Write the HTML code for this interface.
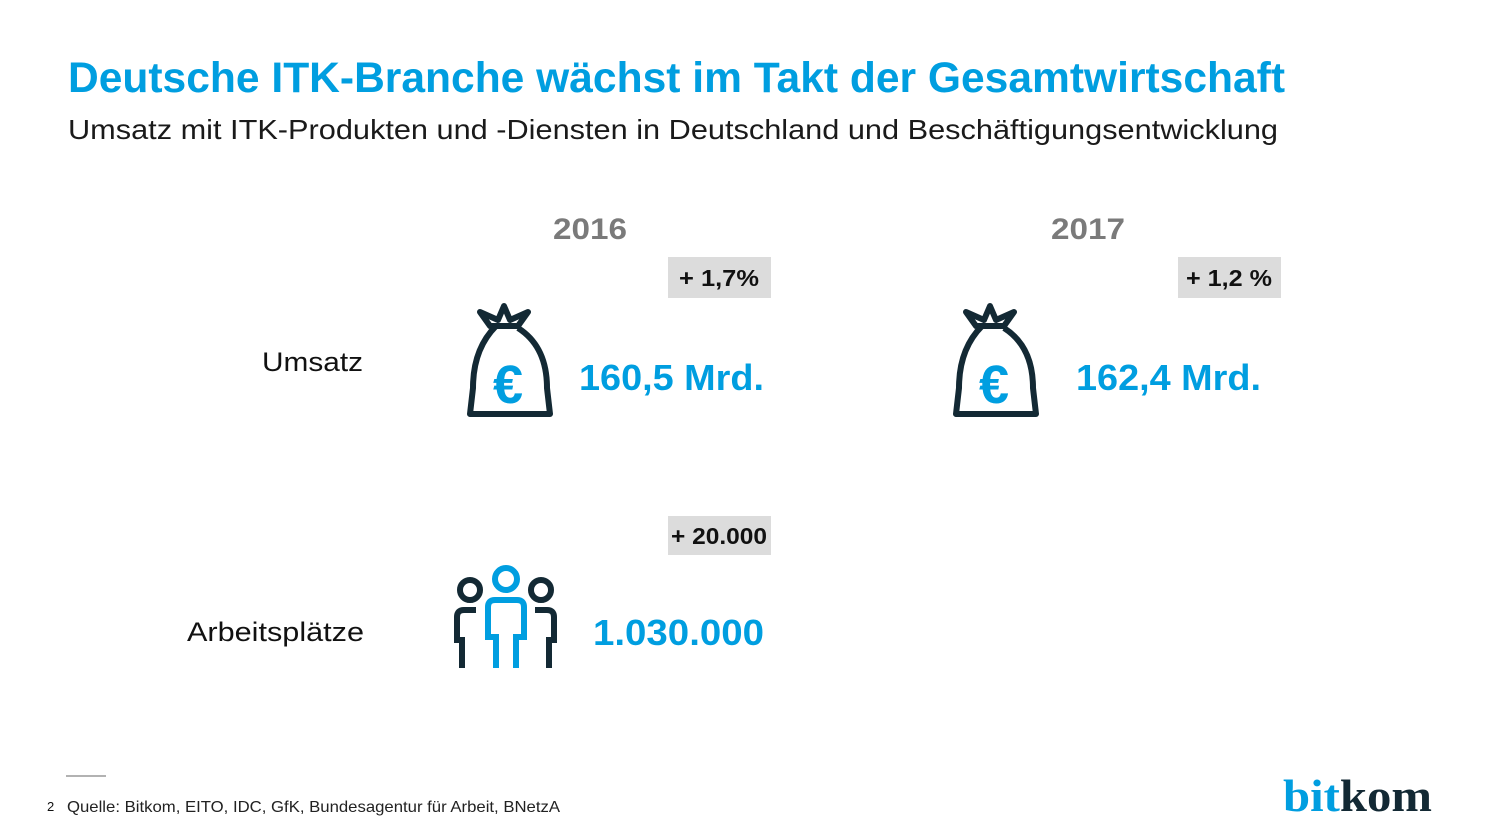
<!DOCTYPE html>
<html><head><meta charset="utf-8"><style>
html,body{margin:0;padding:0;background:#fff;width:1500px;height:839px;overflow:hidden}
svg{display:block;font-family:"Liberation Sans",sans-serif}
</style></head><body>
<svg width="1500" height="839" viewBox="0 0 1500 839">
<text x="68" y="92" font-size="43" font-weight="bold" fill="#009ee0" textLength="1217" lengthAdjust="spacingAndGlyphs">Deutsche ITK-Branche wächst im Takt der Gesamtwirtschaft</text>
<text x="68" y="139" font-size="28" fill="#1a1a1a" textLength="1210" lengthAdjust="spacingAndGlyphs">Umsatz mit ITK-Produkten und -Diensten in Deutschland und Beschäftigungsentwicklung</text>

<text x="590" y="239" font-size="30" font-weight="bold" fill="#7a7a7a" text-anchor="middle" textLength="74" lengthAdjust="spacingAndGlyphs">2016</text>
<text x="1088" y="239" font-size="30" font-weight="bold" fill="#7a7a7a" text-anchor="middle" textLength="74" lengthAdjust="spacingAndGlyphs">2017</text>

<text x="262" y="371" font-size="27" fill="#111" textLength="101" lengthAdjust="spacingAndGlyphs">Umsatz</text>
<text x="187" y="641" font-size="27" fill="#111" textLength="177" lengthAdjust="spacingAndGlyphs">Arbeitsplätze</text>

<g>
<rect x="668" y="257" width="103" height="41" fill="#dcdcdc"/>
<text x="719" y="286" font-size="23" font-weight="bold" fill="#111" text-anchor="middle" textLength="80" lengthAdjust="spacingAndGlyphs">+ 1,7%</text></g>
<g>
<rect x="1178" y="257" width="103" height="41" fill="#dcdcdc"/>
<text x="1229" y="286" font-size="23" font-weight="bold" fill="#111" text-anchor="middle" textLength="86" lengthAdjust="spacingAndGlyphs">+ 1,2 %</text></g>
<g>
<rect x="668" y="516" width="103" height="39" fill="#dcdcdc"/>
<text x="719" y="544" font-size="23" font-weight="bold" fill="#111" text-anchor="middle" textLength="96" lengthAdjust="spacingAndGlyphs">+ 20.000</text></g>

<defs>
<g id="bag">
<path d="M12 6 L30 14 L36 0 L42 14 L60 6 L50 20 L22 20 Z" fill="none" stroke="#132934" stroke-width="6" stroke-linejoin="round"/>
<path d="M28 20 C12 36 5 58 5 82 L2 108 L82 108 L79 82 C79 58 72 36 50 22" fill="none" stroke="#132934" stroke-width="6" stroke-linejoin="round"/>
<text x="40" y="97" font-size="54" font-weight="bold" fill="#009ee0" text-anchor="middle">€</text>
</g>
</defs>
<use href="#bag" x="468" y="306"/>
<use href="#bag" x="954" y="306"/>

<text x="579" y="390" font-size="36" font-weight="bold" fill="#009ee0" textLength="185" lengthAdjust="spacingAndGlyphs">160,5 Mrd.</text>
<text x="1076" y="390" font-size="36" font-weight="bold" fill="#009ee0" textLength="185" lengthAdjust="spacingAndGlyphs">162,4 Mrd.</text>

<g fill="none" stroke-width="6" stroke-linecap="butt">
<circle cx="470" cy="590" r="10" stroke="#132934"/>
<circle cx="541" cy="590" r="10" stroke="#132934"/>
<path d="M476 610 L464 610 Q457 610 457 617 L457 640 L462 640 L462 668" stroke="#132934"/>
<path d="M535 610 L547 610 Q554 610 554 617 L554 640 L549 640 L549 668" stroke="#132934"/>
<circle cx="506" cy="579" r="11" stroke="#009ee0"/>
<path d="M495 600 L517 600 Q524 600 524 607 L524 637 L516 637 L516 668 M495 600 Q488 600 488 607 L488 637 L496 637 L496 668" stroke="#009ee0"/>
</g>
<text x="593" y="645" font-size="36" font-weight="bold" fill="#009ee0" textLength="171" lengthAdjust="spacingAndGlyphs">1.030.000</text>

<line x1="66" y1="776" x2="106" y2="776" stroke="#999" stroke-width="1.5"/>
<text x="47" y="811" font-size="13" fill="#111">2</text>
<text x="67" y="812" font-size="16" fill="#222" textLength="493" lengthAdjust="spacingAndGlyphs">Quelle: Bitkom, EITO, IDC, GfK, Bundesagentur für Arbeit, BNetzA</text>
<text x="1283" y="811" font-size="46" font-weight="bold" font-family="Liberation Serif, serif" textLength="149" lengthAdjust="spacingAndGlyphs"><tspan fill="#009ee0">bit</tspan><tspan fill="#132934">kom</tspan></text>
</svg>
</body></html>
